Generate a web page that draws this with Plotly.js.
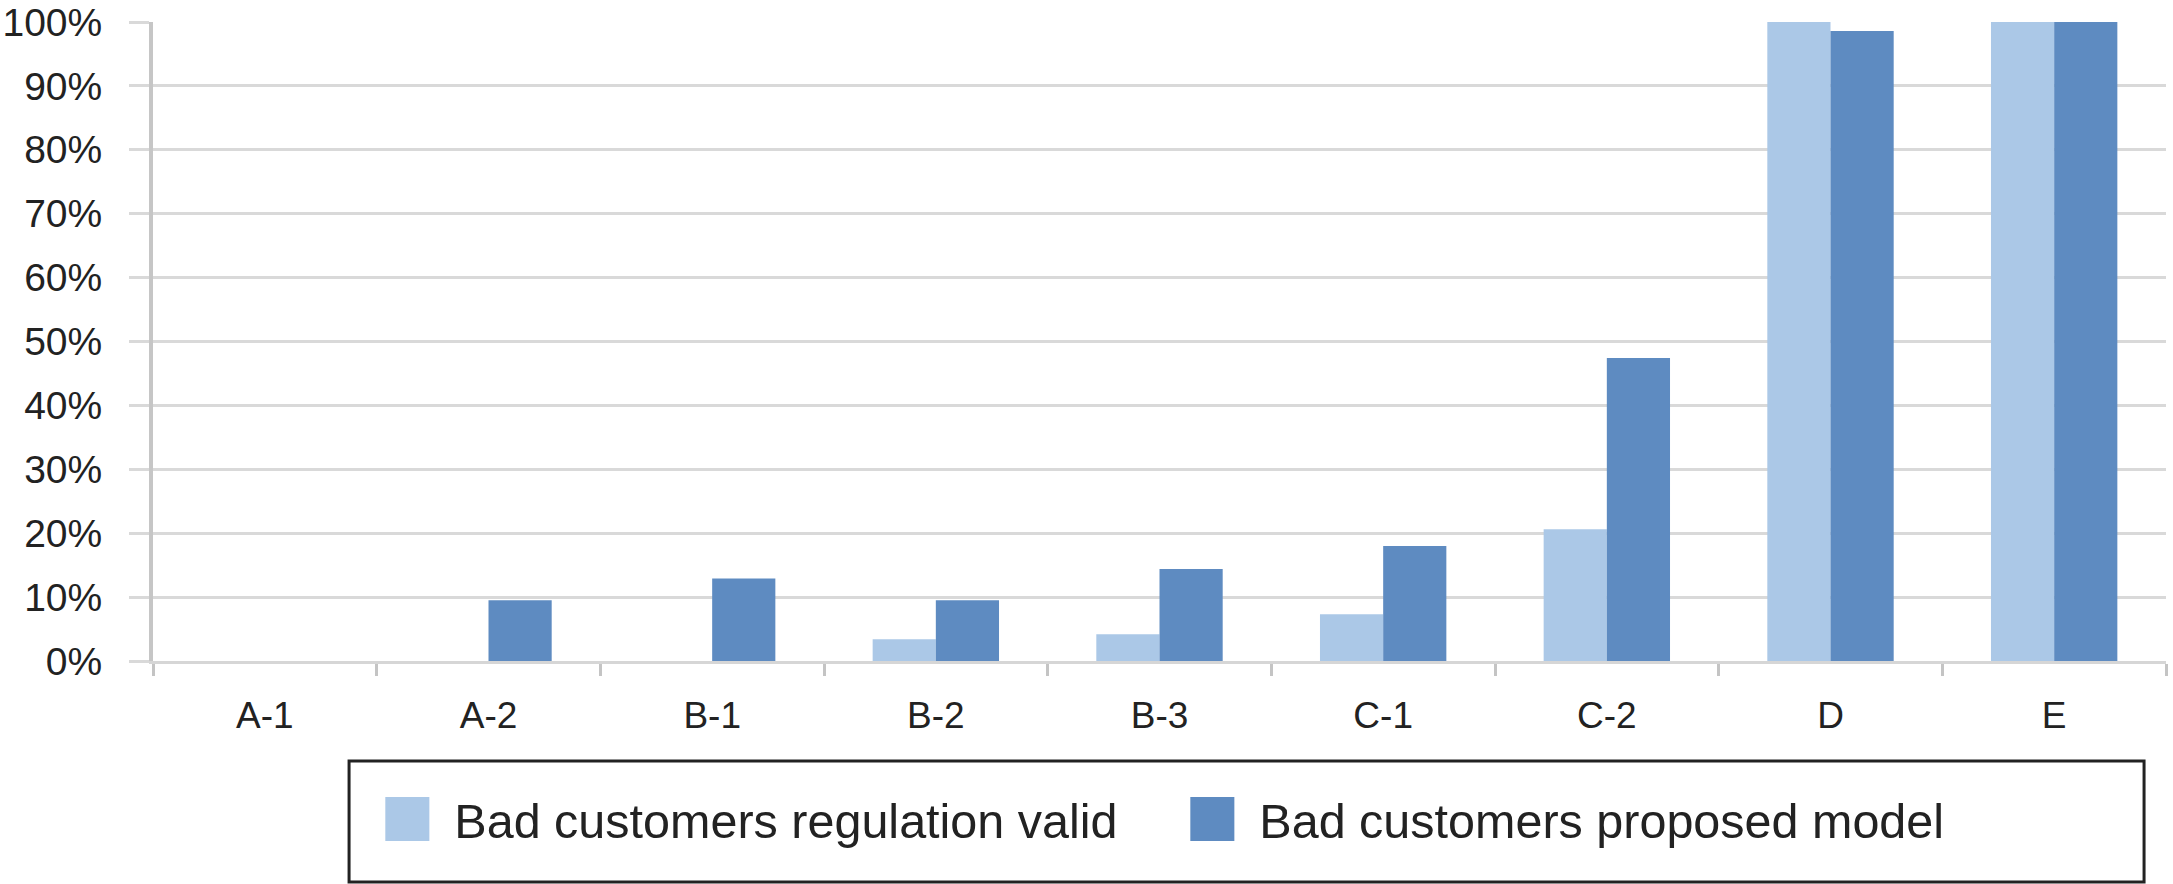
<!DOCTYPE html>
<html>
<head>
<meta charset="utf-8">
<script src="https://cdn.plot.ly/plotly-3.0.1.min.js"></script>
<style>
  html, body { margin: 0; padding: 0; background: #ffffff; }
  #chart { width: 2173px; height: 884px; }
</style>
</head>
<body>
<div id="chart"></div>
<script>
// ---- data ----
var categories = ["A-1", "A-2", "B-1", "B-2", "B-3", "C-1", "C-2", "D", "E"];
var regulationValid = [0, 0, 0, 0.034, 0.042, 0.073, 0.206, 1.0, 1.0];
var proposedModel = [0, 0.095, 0.129, 0.095, 0.144, 0.180, 0.474, 0.986, 1.0];
var seriesNames = ["Bad customers regulation valid", "Bad customers proposed model"];
var yTickVals = [0, 0.1, 0.2, 0.3, 0.4, 0.5, 0.6, 0.7, 0.8, 0.9, 1.0];
var yTickText = ["0%", "10%", "20%", "30%", "40%", "50%", "60%", "70%", "80%", "90%", "100%"];

var FONT = "Liberation Sans, Arial, Helvetica, sans-serif";

var data = [
  {
    type: "bar",
    name: seriesNames[0],
    x: categories,
    y: regulationValid,
    marker: { color: "#abc8e7", line: { width: 0 } },
    hoverinfo: "skip"
  },
  {
    type: "bar",
    name: seriesNames[1],
    x: categories,
    y: proposedModel,
    marker: { color: "#5e8bc1", line: { width: 0 } },
    hoverinfo: "skip"
  }
];

var layout = {
  width: 2173,
  height: 884,
  margin: { l: 153, r: 7, t: 22, b: 223, pad: 0 },
  paper_bgcolor: "#ffffff",
  plot_bgcolor: "#ffffff",
  font: { family: FONT, color: "#222222", size: 39 },
  barmode: "group",
  bargap: 0.435,
  bargroupgap: 0,
  showlegend: true,
  legend: {
    orientation: "h",
    x: 0.103,
    xanchor: "left",
    y: -0.248,
    yanchor: "middle",
    bgcolor: "rgba(0,0,0,0)",
    borderwidth: 0,
    itemwidth: 84,
    entrywidth: 706,
    font: { family: FONT, size: 48.5, color: "#222222" },
    traceorder: "normal"
  },
  xaxis: {
    type: "category",
    showgrid: false,
    showline: true,
    linecolor: "#d6d6d6",
    linewidth: 3,
    ticks: "outside",
    tickson: "boundaries",
    ticklen: 12,
    tickwidth: 3,
    tickcolor: "#c4c4c4",
    ticklabelstandoff: 20,
    tickfont: { family: FONT, size: 37, color: "#222222" },
    fixedrange: true
  },
  yaxis: {
    range: [0, 1],
    tickvals: yTickVals,
    ticktext: yTickText,
    showgrid: true,
    gridcolor: "#d9d9d9",
    gridwidth: 3,
    zeroline: false,
    showline: true,
    linecolor: "#c6c6c6",
    linewidth: 4,
    ticks: "outside",
    ticklen: 20,
    tickwidth: 3,
    tickcolor: "#d9d9d9",
    ticklabelstandoff: 19,
    ticklabeloverflow: "allow",
    tickfont: { family: FONT, size: 39, color: "#222222" },
    fixedrange: true
  },
  shapes: [
    {
      type: "rect",
      xref: "paper",
      yref: "paper",
      x0: 0.0974,
      x1: 0.9891,
      y0: -0.3459,
      y1: -0.1565,
      line: { color: "#222222", width: 3 },
      fillcolor: "rgba(0,0,0,0)",
      layer: "below"
    }
  ]
};

Plotly.newPlot("chart", data, layout, { staticPlot: true, displayModeBar: false }).then(function (gd) {
  gd.querySelectorAll(".legend .legendpoints path").forEach(function (p) {
    var t = p.getAttribute("transform") || "";
    p.setAttribute("transform", t + " scale(3.67)");
    p.style.strokeWidth = "0";
  });
});
</script>
</body>
</html>
